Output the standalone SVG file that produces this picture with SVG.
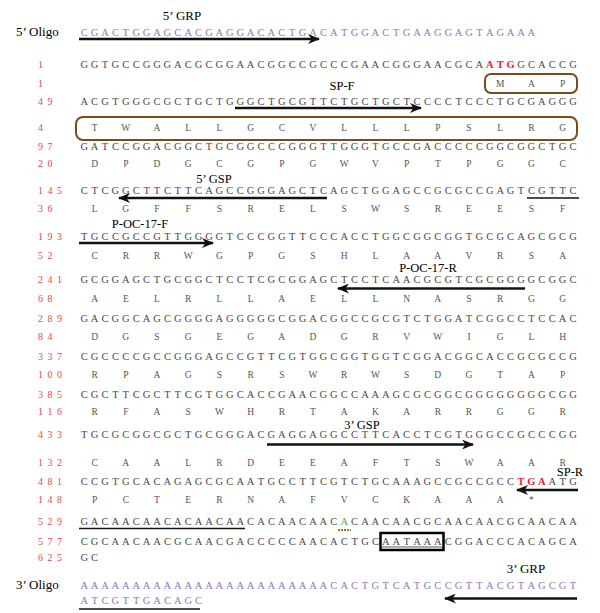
<svg xmlns="http://www.w3.org/2000/svg" width="600" height="613" viewBox="0 0 600 613">
<defs>
<style>
text{font-family:"Liberation Serif","Times New Roman",serif}
.seq{font-size:10.5px;fill:#4a4a4a;text-anchor:middle}
.aa{font-size:9.5px;fill:#555;text-anchor:middle}
.num{font-size:10px;fill:#e8474a;text-anchor:middle}
.ol{font-size:10.5px;fill:#8f78b8;text-anchor:middle}
.lbl{font-size:13px;fill:#000}
.pl{font-size:12.5px;fill:#000;text-anchor:middle}
.red{fill:#e8202a;font-weight:bold}
.arr{stroke:#111;stroke-width:2.3;fill:none;marker-end:url(#ah)}
.ul{stroke:#111;stroke-width:1.6}
.box{fill:none;stroke:#7a4b1e;stroke-width:2}
</style>
<marker id="ah" viewBox="0 0 12 10" refX="11" refY="5" markerWidth="12" markerHeight="10" markerUnits="userSpaceOnUse" orient="auto"><path d="M0,0 L12,5 L0,10 L3.5,5 z" fill="#111"/></marker>
</defs>
<rect width="600" height="613" fill="#fff"/>

<g id="oligo5">
<text class="lbl" x="182" y="20" text-anchor="middle">5’ GRP</text>
<text class="lbl" x="16" y="36">5’ Oligo</text>
<text class="ol" y="35.5" x="84.2 94.6 105 115.4 125.8 136.2 146.6 157 167.4 177.8 188.2 198.6 209 219.4 229.8 240.2 250.6 261 271.4 281.8 292.2 302.6 313 323.4 333.8 344.2 354.6 365 375.4 385.8 396.2 406.6 417 427.4 437.8 448.2 458.6 469 479.4 489.8 500.2 510.6 521 531.4">CGACTGGAGCACGAGGACACTGACATGGACTGAAGGAGTAGAAA</text>
</g>

<g id="row1">
<text class="num" y="67.5" x="40.5">1</text>
<text class="seq" y="67.5" x="84.2 94.6 105 115.4 125.8 136.2 146.6 157 167.4 177.8 188.2 198.6 209 219.4 229.8 240.2 250.6 261 271.4 281.8 292.2 302.6 313 323.4 333.8 344.2 354.6 365 375.4 385.8 396.2 406.6 417 427.4 437.8 448.2 458.6 469 479.4 489.8 500.2 510.6 521 531.4 541.8 552.2 562.6 573">GGTGCCGGGACGCGGAACGGCCGCCCGAACGGGAACGCA<tspan class="red">ATG</tspan>GCACCG</text>
<text class="num" y="86.5" x="40.5">1</text>
<rect class="box" x="485" y="74" width="92" height="19" rx="6"/>
<text class="aa" y="86.5" x="500.2 531.4 562.6">MAP</text>
</g>

<g id="row49">
<text class="pl" x="342" y="90">SP-F</text>
<text class="num" y="104.5" x="40.5 50">49</text>
<text class="seq" y="104.5" x="84.2 94.6 105 115.4 125.8 136.2 146.6 157 167.4 177.8 188.2 198.6 209 219.4 229.8 240.2 250.6 261 271.4 281.8 292.2 302.6 313 323.4 333.8 344.2 354.6 365 375.4 385.8 396.2 406.6 417 427.4 437.8 448.2 458.6 469 479.4 489.8 500.2 510.6 521 531.4 541.8 552.2 562.6 573">ACGTGGGCGCTGCTGGGCTGCGTTCTGCTGCTCCCCTCCCTGCGAGGG</text>
<text class="num" y="131" x="40.5">4</text>
<rect class="box" x="76" y="117" width="501" height="23" rx="7"/>
<text class="aa" y="131" x="94.6 125.8 157 188.2 219.4 250.6 281.8 313 344.2 375.4 406.6 437.8 469 500.2 531.4 562.6">TWALLGCVLLLPSLRG</text>
</g>

<g id="row97">
<text class="num" y="149.5" x="40.5 50">97</text>
<text class="seq" y="149.5" x="84.2 94.6 105 115.4 125.8 136.2 146.6 157 167.4 177.8 188.2 198.6 209 219.4 229.8 240.2 250.6 261 271.4 281.8 292.2 302.6 313 323.4 333.8 344.2 354.6 365 375.4 385.8 396.2 406.6 417 427.4 437.8 448.2 458.6 469 479.4 489.8 500.2 510.6 521 531.4 541.8 552.2 562.6 573">GATCCGGACGGCTGCGGCCCGGGTTGGGTGCCGACCCCCGGCGGCTGC</text>
<text class="num" y="167" x="40.5 50">20</text>
<text class="aa" y="167" x="94.6 125.8 157 188.2 219.4 250.6 281.8 313 344.2 375.4 406.6 437.8 469 500.2 531.4 562.6">DPDGCGPGWVPTPGGC</text>
</g>

<g id="row145">
<text class="pl" x="214" y="182.5">5’ GSP</text>
<text class="num" y="193.5" x="40.5 50 59.5">145</text>
<text class="seq" y="193.5" x="84.2 94.6 105 115.4 125.8 136.2 146.6 157 167.4 177.8 188.2 198.6 209 219.4 229.8 240.2 250.6 261 271.4 281.8 292.2 302.6 313 323.4 333.8 344.2 354.6 365 375.4 385.8 396.2 406.6 417 427.4 437.8 448.2 458.6 469 479.4 489.8 500.2 510.6 521 531.4 541.8 552.2 562.6 573">CTCGGCTTCTTCAGCCGGGAGCTCAGCTGGAGCCGCGCCGAGTCGTTC</text>
<text class="num" y="212" x="40.5 50">36</text>
<text class="aa" y="212" x="94.6 125.8 157 188.2 219.4 250.6 281.8 313 344.2 375.4 406.6 437.8 469 500.2 531.4 562.6">LGFFSRELSWSREESF</text>
</g>

<g id="row193">
<text class="pl" x="140" y="227.5">P-OC-17-F</text>
<text class="num" y="239.5" x="40.5 50 59.5">193</text>
<text class="seq" y="239.5" x="84.2 94.6 105 115.4 125.8 136.2 146.6 157 167.4 177.8 188.2 198.6 209 219.4 229.8 240.2 250.6 261 271.4 281.8 292.2 302.6 313 323.4 333.8 344.2 354.6 365 375.4 385.8 396.2 406.6 417 427.4 437.8 448.2 458.6 469 479.4 489.8 500.2 510.6 521 531.4 541.8 552.2 562.6 573">TGCCGCCGTTGGGGTCCCGGTTCCCACCTGGCGGCGGTGCGCAGCGCG</text>
<text class="num" y="259" x="40.5 50">52</text>
<text class="aa" y="259" x="94.6 125.8 157 188.2 219.4 250.6 281.8 313 344.2 375.4 406.6 437.8 469 500.2 531.4 562.6">CRRWGPGSHLAAVRSA</text>
</g>

<g id="row241">
<text class="pl" x="428" y="272">P-OC-17-R</text>
<text class="num" y="282.5" x="40.5 50 59.5">241</text>
<text class="seq" y="282.5" x="84.2 94.6 105 115.4 125.8 136.2 146.6 157 167.4 177.8 188.2 198.6 209 219.4 229.8 240.2 250.6 261 271.4 281.8 292.2 302.6 313 323.4 333.8 344.2 354.6 365 375.4 385.8 396.2 406.6 417 427.4 437.8 448.2 458.6 469 479.4 489.8 500.2 510.6 521 531.4 541.8 552.2 562.6 573">GCGGAGCTGCGGCTCCTCGCGGAGCTCCTCAACGCGTCGCGGGGCGGC</text>
<text class="num" y="302" x="40.5 50">68</text>
<text class="aa" y="302" x="94.6 125.8 157 188.2 219.4 250.6 281.8 313 344.2 375.4 406.6 437.8 469 500.2 531.4 562.6">AELRLLAELLNASRGG</text>
</g>

<g id="row289">
<text class="num" y="321.5" x="40.5 50 59.5">289</text>
<text class="seq" y="321.5" x="84.2 94.6 105 115.4 125.8 136.2 146.6 157 167.4 177.8 188.2 198.6 209 219.4 229.8 240.2 250.6 261 271.4 281.8 292.2 302.6 313 323.4 333.8 344.2 354.6 365 375.4 385.8 396.2 406.6 417 427.4 437.8 448.2 458.6 469 479.4 489.8 500.2 510.6 521 531.4 541.8 552.2 562.6 573">GACGGCAGCGGGGAGGGGGCGGACGGCCGCGTCTGGATCGGCCTCCAC</text>
<text class="num" y="340" x="40.5 50">84</text>
<text class="aa" y="340" x="94.6 125.8 157 188.2 219.4 250.6 281.8 313 344.2 375.4 406.6 437.8 469 500.2 531.4 562.6">DGSGEGADGRVWIGLH</text>
</g>

<g id="row337">
<text class="num" y="359.5" x="40.5 50 59.5">337</text>
<text class="seq" y="359.5" x="84.2 94.6 105 115.4 125.8 136.2 146.6 157 167.4 177.8 188.2 198.6 209 219.4 229.8 240.2 250.6 261 271.4 281.8 292.2 302.6 313 323.4 333.8 344.2 354.6 365 375.4 385.8 396.2 406.6 417 427.4 437.8 448.2 458.6 469 479.4 489.8 500.2 510.6 521 531.4 541.8 552.2 562.6 573">CGCCCCGCCGGGAGCCGTTCGTGGCGGTGGTCGGACGGCACCGCGCCG</text>
<text class="num" y="378" x="40.5 50 59.5">100</text>
<text class="aa" y="378" x="94.6 125.8 157 188.2 219.4 250.6 281.8 313 344.2 375.4 406.6 437.8 469 500.2 531.4 562.6">RPAGSRSWRWSDGTAP</text>
</g>

<g id="row385">
<text class="num" y="397.5" x="40.5 50 59.5">385</text>
<text class="seq" y="397.5" x="84.2 94.6 105 115.4 125.8 136.2 146.6 157 167.4 177.8 188.2 198.6 209 219.4 229.8 240.2 250.6 261 271.4 281.8 292.2 302.6 313 323.4 333.8 344.2 354.6 365 375.4 385.8 396.2 406.6 417 427.4 437.8 448.2 458.6 469 479.4 489.8 500.2 510.6 521 531.4 541.8 552.2 562.6 573">CGCTTCGCTTCGTGGCACCGAACGGCCAAAGCGCGGCGGGGGGGGCGG</text>
<text class="num" y="415" x="40.5 50 59.5">116</text>
<text class="aa" y="415" x="94.6 125.8 157 188.2 219.4 250.6 281.8 313 344.2 375.4 406.6 437.8 469 500.2 531.4 562.6">RFASWHRTAKARRGGR</text>
</g>

<g id="row433">
<text class="pl" x="362" y="429">3’ GSP</text>
<text class="num" y="438" x="40.5 50 59.5">433</text>
<text class="seq" y="438" x="84.2 94.6 105 115.4 125.8 136.2 146.6 157 167.4 177.8 188.2 198.6 209 219.4 229.8 240.2 250.6 261 271.4 281.8 292.2 302.6 313 323.4 333.8 344.2 354.6 365 375.4 385.8 396.2 406.6 417 427.4 437.8 448.2 458.6 469 479.4 489.8 500.2 510.6 521 531.4 541.8 552.2 562.6 573">TGCGCGGCGCTGCGGGACGAGGAGGCCTTCACCTCGTGGGCCGCCCGG</text>
<text class="num" y="466" x="40.5 50 59.5">132</text>
<text class="aa" y="466" x="94.6 125.8 157 188.2 219.4 250.6 281.8 313 344.2 375.4 406.6 437.8 469 500.2 531.4 562.6">CAALRDEEAFTSWAAR</text>
</g>

<g id="row481">
<text class="pl" x="570" y="476">SP-R</text>
<text class="num" y="485" x="40.5 50 59.5">481</text>
<text class="seq" y="485" x="84.2 94.6 105 115.4 125.8 136.2 146.6 157 167.4 177.8 188.2 198.6 209 219.4 229.8 240.2 250.6 261 271.4 281.8 292.2 302.6 313 323.4 333.8 344.2 354.6 365 375.4 385.8 396.2 406.6 417 427.4 437.8 448.2 458.6 469 479.4 489.8 500.2 510.6 521 531.4 541.8 552.2 562.6 573">CCGTGCACAGAGCGCAATGCCTTCGTCTGCAAAGCCGCCGCC<tspan class="red">TGA</tspan>ATG</text>
<text class="num" y="503" x="40.5 50 59.5">148</text>
<text class="aa" y="503" x="94.6 125.8 157 188.2 219.4 250.6 281.8 313 344.2 375.4 406.6 437.8 469 500.2 531.4">PCTERNAFVCKAAA*</text>
</g>

<g id="row529">
<text class="num" y="524.5" x="40.5 50 59.5">529</text>
<text class="seq" y="524.5" x="84.2 94.6 105 115.4 125.8 136.2 146.6 157 167.4 177.8 188.2 198.6 209 219.4 229.8 240.2 250.6 261 271.4 281.8 292.2 302.6 313 323.4 333.8 344.2 354.6 365 375.4 385.8 396.2 406.6 417 427.4 437.8 448.2 458.6 469 479.4 489.8 500.2 510.6 521 531.4 541.8 552.2 562.6 573">GACAACAACACAACAACACAACAAC<tspan fill="#4caf50">A</tspan>CAACAACGCAACAACGCAACAA</text>
<line class="ul" x1="79" y1="528.5" x2="245" y2="528.5"/>
<line x1="338" y1="530" x2="351" y2="530" stroke="#b0702a" stroke-width="2" stroke-dasharray="2 1"/>
</g>

<g id="row577">
<text class="num" y="544.5" x="40.5 50 59.5">577</text>
<text class="seq" y="544.5" x="84.2 94.6 105 115.4 125.8 136.2 146.6 157 167.4 177.8 188.2 198.6 209 219.4 229.8 240.2 250.6 261 271.4 281.8 292.2 302.6 313 323.4 333.8 344.2 354.6 365 375.4 385.8 396.2 406.6 417 427.4 437.8 448.2 458.6 469 479.4 489.8 500.2 510.6 521 531.4 541.8 552.2 562.6 573">CGCAACAACGCAACGACCCCCAACACTGCAATAAACGGACCCACAGCA</text>
<rect x="380.5" y="533" width="63" height="17" fill="none" stroke="#000" stroke-width="2.5"/>
<line x1="382" y1="547" x2="442" y2="547" stroke="#333" stroke-width="0.8"/>
</g>

<g id="row625">
<text class="num" y="560.5" x="40.5 50 59.5">625</text>
<text class="seq" y="560.5" x="84.2 94.6">GC</text>
</g>

<g id="oligo3">
<text class="lbl" x="526" y="573" text-anchor="middle">3’ GRP</text>
<text class="lbl" x="16" y="589">3’ Oligo</text>
<text class="ol" y="589" x="84.2 94.6 105 115.4 125.8 136.2 146.6 157 167.4 177.8 188.2 198.6 209 219.4 229.8 240.2 250.6 261 271.4 281.8 292.2 302.6 313 323.4 333.8 344.2 354.6 365 375.4 385.8 396.2 406.6 417 427.4 437.8 448.2 458.6 469 479.4 489.8 500.2 510.6 521 531.4 541.8 552.2 562.6 573">AAAAAAAAAAAAAAAAAAAAAAAACACTGTCATGCCGTTACGTAGCGT</text>
<text class="ol" y="603.5" x="84.2 94.6 105 115.4 125.8 136.2 146.6 157 167.4 177.8 188.2 198.6">ATCGTTGACAGC</text>
<line class="ul" x1="79" y1="609" x2="200" y2="609"/>
</g>

<g id="connectors">
<line class="arr" x1="79" y1="39" x2="319" y2="39"/>
<line class="arr" x1="235" y1="108" x2="421" y2="108"/>
<line class="arr" x1="327" y1="198" x2="119" y2="198"/>
<line class="ul" x1="527" y1="198" x2="579" y2="198"/>
<line class="arr" x1="79" y1="243" x2="213" y2="243"/>
<line class="arr" x1="525" y1="288.5" x2="338" y2="288.5"/>
<line class="arr" x1="267" y1="444.5" x2="473" y2="444.5"/>
<line class="arr" x1="578" y1="490" x2="517" y2="490"/>
<line class="arr" x1="577" y1="598.5" x2="445" y2="598.5"/>
</g>
</svg>
